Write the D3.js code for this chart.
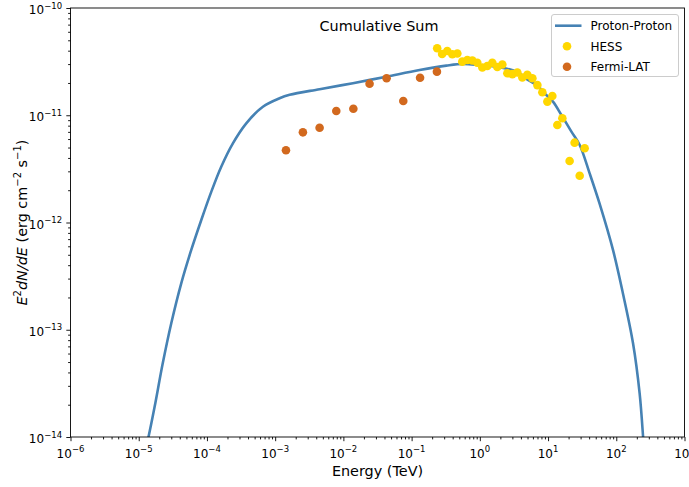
<!DOCTYPE html>
<html>
<head>
<meta charset="utf-8">
<script src="https://cdn.jsdelivr.net/npm/d3@7/dist/d3.min.js"></script>
<style>
  html, body { margin: 0; padding: 0; background: #ffffff; }
  svg { display: block; font-family: "DejaVu Sans", sans-serif; }
</style>
</head>
<body>
<svg id="chart" width="689" height="487"></svg>
<script>
// Proton-proton model spectrum (energy in TeV, E^2 dN/dE in erg cm^-2 s^-1)
const modelEnergy = [1.30e-5, 1.39e-5, 1.71e-5, 2.25e-5, 3.00e-5, 4.20e-5, 5.89e-5, 8.24e-5,
  1.16e-4, 1.62e-4, 2.40e-4, 3.77e-4, 6.61e-4, 1.16e-3, 1.63e-3, 4.48e-3, 1.38e-2, 4.26e-2,
  0.131, 0.323, 0.565, 0.993, 1.75, 3.43, 5.07, 6.97, 8.91, 11.8, 15.7, 22.0, 29.1, 40.7,
  57.1, 89.5, 125, 176, 220, 247, 252];
const modelFlux = [8.41e-15, 1.0e-14, 1.91e-14, 4.86e-14, 1.15e-13, 2.71e-13, 5.55e-13, 1.05e-12,
  1.94e-12, 3.31e-12, 5.47e-12, 8.41e-12, 1.20e-11, 1.44e-11, 1.55e-11, 1.75e-11, 1.99e-11, 2.29e-11,
  2.64e-11, 2.90e-11, 3.01e-11, 2.94e-11, 2.84e-11, 2.55e-11, 2.13e-11, 1.89e-11, 1.60e-11, 1.34e-11,
  1.005e-11, 7.03e-12, 5.28e-12, 2.87e-12, 1.49e-12, 5.55e-13, 2.19e-13, 7.48e-14, 2.55e-14, 1.01e-14, 8.41e-15];

// HESS measurements
const hessEnergy = [0.237, 0.280, 0.333, 0.395, 0.468, 0.553, 0.656, 0.776, 0.918, 1.088,
  1.288, 1.525, 1.805, 2.137, 2.531, 2.997, 3.548, 4.20, 4.97, 5.89,
  6.97, 8.25, 9.77, 11.56, 13.68, 16.2, 20.7, 24.5, 29.1, 34.4];
const hessFlux = [4.21e-11, 3.72e-11, 3.97e-11, 3.70e-11, 3.76e-11, 3.16e-11, 3.27e-11, 3.24e-11, 3.09e-11, 2.79e-11,
  2.88e-11, 3.09e-11, 2.82e-11, 2.97e-11, 2.46e-11, 2.42e-11, 2.50e-11, 2.25e-11, 2.38e-11, 2.21e-11,
  1.91e-11, 1.64e-11, 1.34e-11, 1.51e-11, 8.11e-12, 9.37e-12, 3.74e-12, 5.55e-12, 2.73e-12, 4.92e-12];

// Fermi-LAT measurements
const fermiEnergy = [1.44e-3, 2.55e-3, 4.48e-3, 7.87e-3, 1.40e-2, 2.42e-2, 4.30e-2, 7.55e-2, 0.133, 0.235];
const fermiFlux = [4.71e-12, 6.93e-12, 7.65e-12, 1.096e-11, 1.151e-11, 1.97e-11, 2.21e-11, 1.36e-11, 2.24e-11, 2.55e-11];

// Axis ticks (decade exponents)
const xTickExponents = [-6, -5, -4, -3, -2, -1, 0, 1, 2, 3];
const yTickExponents = [-14, -13, -12, -11, -10];

const legendLabels = ["Proton-Proton", "HESS", "Fermi-LAT"];
const colors = { model: "#4682b4", hess: "#ffd700", fermi: "#d2691e" };

const svg = d3.select("#chart");
const plotLeft = 70.5, plotRight = 684.5, plotTop = 8, plotBottom = 437;

const x = d3.scaleLog().domain([1e-6, 1e3]).range([plotLeft, plotRight]);
const y = d3.scaleLog().domain([1e-14, 1e-10]).range([plotBottom, plotTop]);

function minorsOf(exps) {
  const out = [];
  for (let i = 0; i < exps.length - 1; i++) {
    for (let k = 2; k <= 9; k++) out.push(k * Math.pow(10, exps[i]));
  }
  return out;
}
const xMajor = xTickExponents.map(e => Math.pow(10, e));
const yMajor = yTickExponents.map(e => Math.pow(10, e));

svg.append("defs").append("clipPath").attr("id", "plotClip")
  .append("rect").attr("x", plotLeft).attr("y", plotTop)
  .attr("width", plotRight - plotLeft).attr("height", plotBottom - plotTop);

// Axes ticks (outward)
function styleAxis(g) {
  g.select(".domain").remove();
  g.selectAll(".tick line").attr("stroke", "#000").attr("stroke-width", 0.9);
  g.selectAll(".tick text").remove();
}
svg.append("g").attr("transform", `translate(0,${plotBottom})`)
  .call(d3.axisBottom(x).tickValues(xMajor).tickSize(4.2).tickSizeOuter(0)).call(styleAxis);
svg.append("g").attr("transform", `translate(0,${plotBottom})`)
  .call(d3.axisBottom(x).tickValues(minorsOf(xTickExponents)).tickSize(2.4).tickSizeOuter(0)).call(styleAxis);
svg.append("g").attr("transform", `translate(${plotLeft},0)`)
  .call(d3.axisLeft(y).tickValues(yMajor).tickSize(4.2).tickSizeOuter(0)).call(styleAxis);
svg.append("g").attr("transform", `translate(${plotLeft},0)`)
  .call(d3.axisLeft(y).tickValues(minorsOf(yTickExponents)).tickSize(2.4).tickSizeOuter(0)).call(styleAxis);

// Power-of-ten tick labels
function powerLabel(sel, exp) {
  sel.append("tspan").text("10");
  sel.append("tspan").attr("dy", -5.5).attr("font-size", 8.5)
    .text((exp < 0 ? "\u2212" : "") + Math.abs(exp));
}
xTickExponents.forEach(e => {
  const t = svg.append("text").attr("x", x(Math.pow(10, e))).attr("y", 457.5)
    .attr("text-anchor", "middle").attr("font-size", 12).attr("fill", "#000");
  powerLabel(t, e);
});
yTickExponents.forEach(e => {
  const t = svg.append("text").attr("x", plotLeft - 8.4).attr("y", y(Math.pow(10, e)) + 6)
    .attr("text-anchor", "end").attr("font-size", 12).attr("fill", "#000");
  powerLabel(t, e);
});

// Axis titles
svg.append("text").attr("x", (plotLeft + plotRight) / 2).attr("y", 476)
  .attr("text-anchor", "middle").attr("font-size", 14.4).text("Energy (TeV)");

const yl = svg.append("text")
  .attr("transform", `translate(27,${(plotTop + plotBottom) / 2}) rotate(-90)`)
  .attr("text-anchor", "middle").attr("font-size", 14.4);
yl.append("tspan").attr("font-style", "italic").text("E");
yl.append("tspan").attr("dy", -6).attr("font-size", 10).text("2");
yl.append("tspan").attr("dy", 6).attr("font-style", "italic").text("dN/dE");
yl.append("tspan").text(" (erg cm");
yl.append("tspan").attr("dy", -6).attr("font-size", 10).text("\u22122");
yl.append("tspan").attr("dy", 6).text(" s");
yl.append("tspan").attr("dy", -6).attr("font-size", 10).text("\u22121");
yl.append("tspan").attr("dy", 6).text(")");

// Title inside the axes
svg.append("text").attr("x", 379).attr("y", 30.5)
  .attr("text-anchor", "middle").attr("font-size", 14.4).text("Cumulative Sum");

// Model curve
const plot = svg.append("g").attr("clip-path", "url(#plotClip)");
const line = d3.line()
  .x(d => x(d[0])).y(d => y(d[1]))
  .curve(d3.curveCatmullRom.alpha(0.5));
plot.append("path")
  .datum(modelEnergy.map((e, i) => [e, modelFlux[i]]))
  .attr("d", line).attr("fill", "none")
  .attr("stroke", colors.model).attr("stroke-width", 2.6);

// Measurement points
plot.selectAll("circle.hess").data(hessEnergy.map((e, i) => [e, hessFlux[i]]))
  .enter().append("circle").attr("class", "hess")
  .attr("cx", d => x(d[0])).attr("cy", d => y(d[1])).attr("r", 4.3)
  .attr("fill", colors.hess);
plot.selectAll("circle.fermi").data(fermiEnergy.map((e, i) => [e, fermiFlux[i]]))
  .enter().append("circle").attr("class", "fermi")
  .attr("cx", d => x(d[0])).attr("cy", d => y(d[1])).attr("r", 4.3)
  .attr("fill", colors.fermi);

// Axes frame
svg.append("rect").attr("x", plotLeft).attr("y", plotTop)
  .attr("width", plotRight - plotLeft).attr("height", plotBottom - plotTop)
  .attr("fill", "none").attr("stroke", "#000").attr("stroke-width", 0.9);

// Legend
const lg = svg.append("g");
lg.append("rect").attr("x", 551.5).attr("y", 14.5).attr("width", 127).attr("height", 62)
  .attr("rx", 2.5).attr("fill", "#fff").attr("fill-opacity", 0.8)
  .attr("stroke", "#cccccc").attr("stroke-width", 1);
const rowY = [25.7, 46.3, 66.7];
lg.append("line").attr("x1", 555).attr("x2", 581.5).attr("y1", rowY[0]).attr("y2", rowY[0])
  .attr("stroke", colors.model).attr("stroke-width", 2.6);
lg.append("circle").attr("cx", 567).attr("cy", rowY[1]).attr("r", 4.3).attr("fill", colors.hess);
lg.append("circle").attr("cx", 567).attr("cy", rowY[2]).attr("r", 4.3).attr("fill", colors.fermi);
legendLabels.forEach((t, i) => {
  lg.append("text").attr("x", 590.5).attr("y", rowY[i] + 4.3)
    .attr("font-size", 12).attr("fill", "#000").text(t);
});
</script>
</body>
</html>
